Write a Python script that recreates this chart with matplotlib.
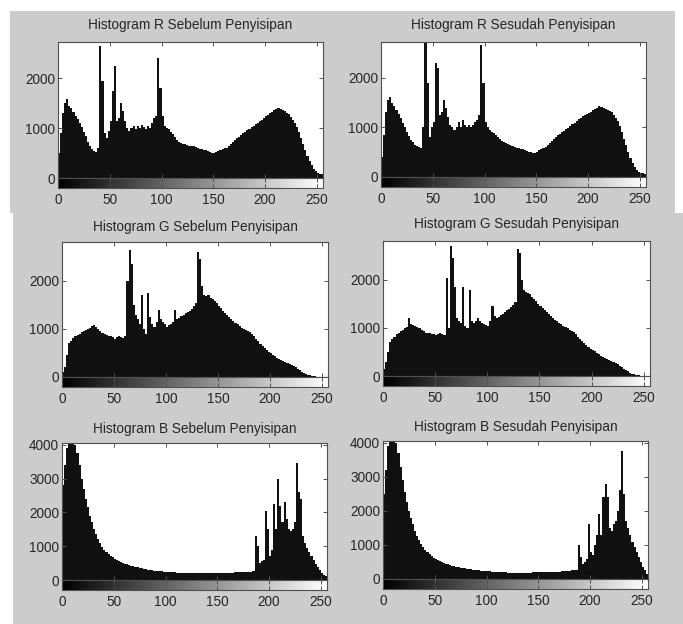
import numpy as np
import matplotlib
matplotlib.use("Agg")
import matplotlib.pyplot as plt
from matplotlib.patches import Rectangle

plt.rcParams['font.family'] = ['Liberation Sans', 'DejaVu Sans']

# grey levels (bin start, bin width 2)
bins = list(range(0, 256, 2))

r_before = [500, 900, 1300, 1500, 1580, 1450, 1400, 1330, 1250, 1180, 1100, 1020, 930, 850, 730, 650,
            580, 540, 520, 600, 2650, 1950, 900, 800, 950, 1150, 1750, 2250, 1150, 1200, 1500, 1350,
            1150, 1000, 950, 1000, 1050, 980, 1050, 1000, 1060, 1020, 990, 1050, 1000, 1100, 1200, 1250,
            2400, 1800, 1250, 1050, 1000, 980, 920, 880, 820, 760, 730, 700, 690, 680, 670, 650,
            640, 640, 620, 610, 590, 580, 570, 560, 540, 520, 500, 500, 520, 550, 570, 580,
            600, 610, 640, 680, 720, 760, 800, 830, 860, 900, 930, 960, 990, 1020, 1050, 1080,
            1110, 1140, 1170, 1200, 1240, 1270, 1300, 1330, 1360, 1390, 1400, 1380, 1370, 1340, 1310, 1280,
            1230, 1170, 1100, 1020, 920, 800, 680, 560, 450, 350, 260, 190, 140, 110, 90, 80]

r_after = [400, 850, 1300, 1550, 1620, 1500, 1430, 1350, 1270, 1180, 1080, 1000, 900, 820, 740, 700,
           650, 620, 600, 580, 1000, 2700, 1900, 800, 1000, 1100, 2300, 2200, 1250, 1300, 1550, 1400,
           1200, 1050, 1000, 950, 1000, 1100, 1000, 1150, 1050, 1000, 1050, 1000, 1050, 1100, 1150, 1250,
           2650, 1900, 1100, 1000, 950, 900, 880, 850, 800, 760, 720, 700, 680, 660, 640, 620,
           600, 590, 580, 570, 560, 550, 530, 510, 500, 490, 480, 500, 540, 560, 590, 610,
           640, 680, 720, 760, 800, 840, 870, 900, 930, 960, 990, 1020, 1060, 1090, 1120, 1160,
           1190, 1220, 1250, 1270, 1290, 1310, 1340, 1370, 1400, 1440, 1420, 1400, 1380, 1360, 1330, 1300,
           1250, 1190, 1120, 1020, 900, 770, 640, 500, 380, 280, 200, 150, 110, 90, 80, 70]

g_before = [100, 200, 450, 700, 750, 820, 860, 880, 900, 930, 950, 980, 1000, 1030, 1060, 1080,
            1050, 1000, 960, 920, 900, 880, 860, 850, 830, 800, 830, 860, 840, 820, 850, 2000,
            2650, 2350, 1500, 1300, 1200, 1100, 1700, 1000, 900, 1750, 1250, 1100, 1050, 1150, 1400, 1200,
            1150, 1100, 1050, 1080, 1100, 1150, 1400, 1200, 1230, 1260, 1300, 1330, 1350, 1380, 1420, 1470,
            1550, 2600, 2450, 1900, 1700, 1680, 1700, 1650, 1620, 1580, 1530, 1480, 1430, 1380, 1330, 1290,
            1250, 1210, 1170, 1130, 1100, 1060, 1030, 1000, 980, 960, 940, 900, 860, 800, 740, 690,
            640, 600, 560, 520, 490, 460, 430, 400, 380, 360, 330, 310, 290, 280, 260, 230,
            200, 170, 140, 110, 85, 65, 50, 35, 25, 15, 10, 5, 3, 0, 0, 0]

g_after = [150, 300, 500, 700, 760, 820, 870, 900, 930, 960, 990, 1030, 1200, 1080, 1060, 1050,
           1020, 990, 960, 930, 900, 900, 890, 880, 870, 860, 880, 900, 880, 860, 2050, 1000,
           2700, 2450, 1850, 1200, 1150, 1100, 1850, 1050, 1000, 1800, 1150, 1100, 1150, 1200, 1150, 1100,
           1080, 1060, 1050, 1150, 1450, 1250, 1200, 1220, 1260, 1300, 1330, 1370, 1400, 1440, 1480, 1530,
           2650, 2550, 2000, 1800, 1750, 1720, 1700, 1650, 1600, 1560, 1500, 1460, 1420, 1370, 1330, 1290,
           1250, 1210, 1170, 1140, 1110, 1080, 1050, 1020, 990, 960, 940, 910, 880, 820, 760, 720,
           680, 640, 600, 570, 540, 510, 480, 450, 420, 400, 380, 360, 340, 320, 300, 270,
           240, 210, 180, 150, 120, 95, 70, 50, 35, 25, 15, 10, 5, 3, 0, 0]

b_before = [2800, 3400, 3900, 4100, 4100, 4100, 4000, 3750, 3400, 3000, 2700, 2400, 2150, 1900, 1700, 1500,
            1350, 1200, 1080, 980, 900, 830, 770, 720, 670, 630, 590, 560, 530, 500, 480, 460,
            440, 420, 400, 390, 370, 360, 340, 330, 320, 310, 300, 290, 280, 275, 270, 260,
            255, 250, 245, 240, 235, 230, 225, 220, 215, 210, 210, 205, 205, 200, 200, 200,
            200, 195, 195, 195, 200, 200, 200, 200, 200, 205, 205, 205, 210, 210, 210, 215,
            215, 220, 220, 225, 225, 230, 230, 235, 240, 240, 245, 250, 260, 1300, 1000, 500,
            550, 600, 2050, 1500, 700, 900, 2250, 1500, 3000, 2200, 1700, 2300, 1800, 1500, 1450, 1500,
            1700, 3450, 2600, 2400, 1300, 1100, 950, 820, 700, 580, 480, 380, 300, 220, 160, 120]

b_after = [2500, 3200, 3900, 4100, 4100, 4100, 4000, 3700, 3300, 2900, 2550, 2250, 2000, 1800, 1600, 1420,
           1270, 1130, 1020, 930, 850, 780, 720, 670, 620, 580, 550, 520, 490, 470, 450, 430,
           410, 390, 375, 360, 345, 335, 320, 310, 300, 290, 280, 270, 265, 260, 250, 245,
           240, 235, 230, 225, 220, 215, 210, 205, 200, 200, 195, 195, 190, 190, 190, 185,
           185, 185, 185, 185, 190, 190, 190, 190, 195, 195, 195, 200, 200, 200, 205, 205,
           210, 210, 215, 215, 220, 220, 225, 230, 235, 240, 245, 250, 260, 270, 1000, 650,
           450, 500, 600, 1600, 800, 700, 1000, 1300, 1900, 1300, 2400, 2800, 2400, 1500, 1400, 1600,
           1700, 2000, 2600, 3750, 2500, 1700, 1500, 1300, 1100, 950, 800, 650, 500, 350, 250, 150]

titles = ["Histogram R Sebelum Penyisipan", "Histogram R Sesudah Penyisipan",
          "Histogram G Sebelum Penyisipan", "Histogram G Sesudah Penyisipan",
          "Histogram B Sebelum Penyisipan", "Histogram B Sesudah Penyisipan"]
series = [r_before, r_after, g_before, g_after, b_before, b_after]
ymaxes = [2720, 2720, 2810, 2810, 4050, 4050]
yticks = [[0, 1000, 2000], [0, 1000, 2000], [0, 1000, 2000], [0, 1000, 2000],
          [0, 1000, 2000, 3000, 4000], [0, 1000, 2000, 3000, 4000]]
xticks = [0, 50, 100, 150, 200, 250]

# layout in pixels: (left, right, top, zero-line, colorbar bottom, title y)
boxes = [(58, 323, 42, 178, 188, 25), (381, 646, 42, 177, 187, 25),
         (62, 328, 242, 377, 387, 227), (383, 650, 241, 376, 386, 224),
         (62, 327, 443, 580, 590, 429), (383, 648, 441, 579, 589, 427)]

W, H = 683, 624
fig = plt.figure(figsize=(W / 100, H / 100), dpi=100, facecolor='white')

gray = '#cccccc'
fig.patches.append(Rectangle((10 / W, 1 - 213 / H), 665 / W, 202 / H,
                             transform=fig.transFigure, facecolor=gray, edgecolor='none', zorder=-10))
fig.patches.append(Rectangle((13 / W, 0), 670 / W, 1 - 213 / H,
                             transform=fig.transFigure, facecolor=gray, edgecolor='none', zorder=-10))

txt = '#262626'
spine_c = '#505050'
fs = 9.8

def frac(l, r, t, b):
    return [l / W, 1 - b / H, (r - l) / W, (b - t) / H]

for i in range(6):
    l, r, t, z, cb, ty = boxes[i]
    ax = fig.add_axes(frac(l, r, t, z))
    ax.bar(bins, series[i], width=2, align='edge', color='#111111', linewidth=0)
    ax.set_xlim(0, 256)
    ax.set_ylim(0, ymaxes[i])
    ax.set_facecolor('white')
    ax.set_xticks(xticks)
    ax.set_yticks(yticks[i])
    ax.set_yticklabels([str(v) for v in yticks[i]], color=txt, fontsize=fs)
    ax.tick_params(axis='both', direction='in', top=True, right=True, length=3,
                   width=0.7, color=spine_c, labelbottom=False, pad=2)
    for s in ax.spines.values():
        s.set_color(spine_c)
        s.set_linewidth(0.8)

    cax = fig.add_axes(frac(l, r, z, cb))
    cax.imshow(np.linspace(0, 1, 256)[None, :], cmap='gray', extent=[0, 256, 0, 1],
               aspect='auto', interpolation='bilinear')
    cax.set_xlim(0, 256)
    cax.set_ylim(0, 1)
    cax.set_yticks([])
    cax.set_xticks(xticks)
    cax.set_xticklabels([str(v) for v in xticks], color=txt, fontsize=fs)
    cax.tick_params(axis='x', direction='in', top=True, length=3, width=0.7,
                    color=spine_c, pad=3.5)
    for s in cax.spines.values():
        s.set_color(spine_c)
        s.set_linewidth(0.8)

    fig.text((l + r) / 2 / W, 1 - ty / H, titles[i], ha='center', va='center',
             color=txt, fontsize=fs)

fig.savefig('out.png', dpi=100, facecolor='white')
